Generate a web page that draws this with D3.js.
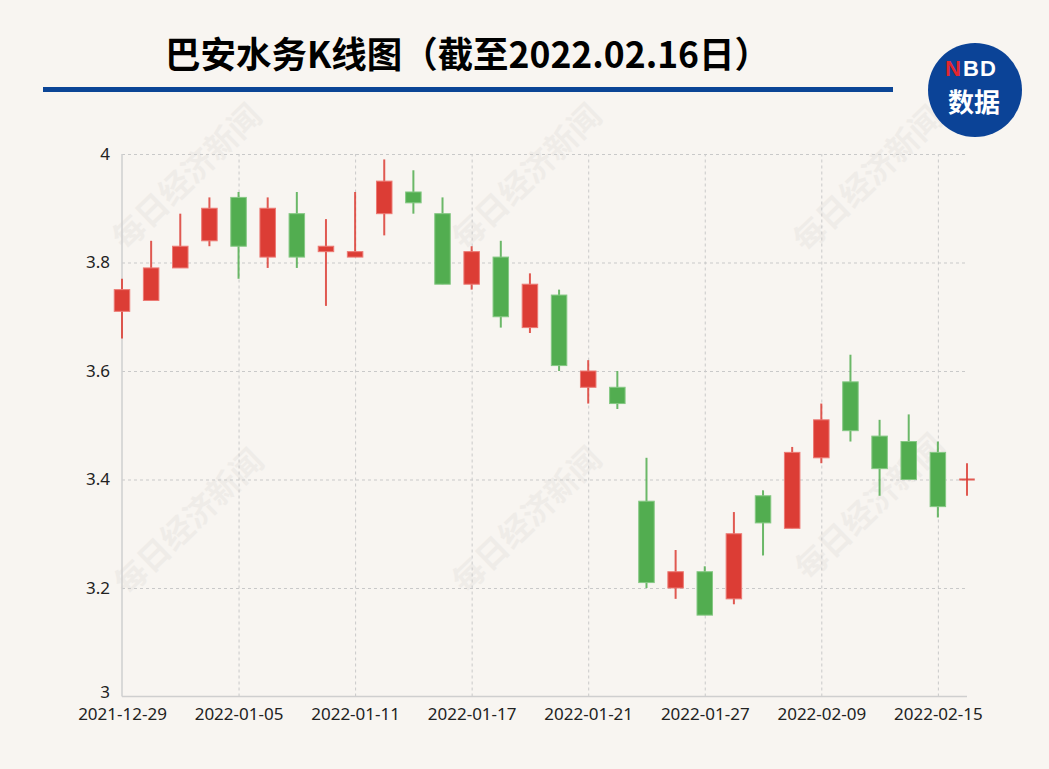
<!DOCTYPE html>
<html>
<head>
<meta charset="utf-8">
<script src="https://cdn.jsdelivr.net/npm/d3@7"></script>
<style>
  html, body { margin: 0; padding: 0; background: #f8f5f1; }
  svg { display: block; }
</style>
</head>
<body>
<svg id="chart" width="1049" height="769"></svg>
<script>
const dates = ["2021-12-29","2021-12-30","2021-12-31","2022-01-04","2022-01-05","2022-01-06","2022-01-07","2022-01-10","2022-01-11","2022-01-12","2022-01-13","2022-01-14","2022-01-17","2022-01-18","2022-01-19","2022-01-20","2022-01-21","2022-01-24","2022-01-25","2022-01-26","2022-01-27","2022-01-28","2022-02-07","2022-02-08","2022-02-09","2022-02-10","2022-02-11","2022-02-14","2022-02-15","2022-02-16"];
const openVals  = [3.71,3.73,3.79,3.84,3.92,3.81,3.89,3.82,3.81,3.89,3.93,3.89,3.76,3.81,3.68,3.74,3.57,3.57,3.36,3.20,3.23,3.18,3.37,3.31,3.44,3.58,3.48,3.47,3.45,3.40];
const closeVals = [3.75,3.79,3.83,3.90,3.83,3.90,3.81,3.83,3.82,3.95,3.91,3.76,3.82,3.70,3.76,3.61,3.60,3.54,3.21,3.23,3.15,3.30,3.32,3.45,3.51,3.49,3.42,3.40,3.35,3.40];
const highVals  = [3.77,3.84,3.89,3.92,3.93,3.92,3.93,3.88,3.93,3.99,3.97,3.92,3.83,3.84,3.78,3.75,3.62,3.60,3.44,3.27,3.24,3.34,3.38,3.46,3.54,3.63,3.51,3.52,3.47,3.43];
const lowVals   = [3.66,3.73,3.79,3.83,3.77,3.79,3.79,3.72,3.81,3.85,3.89,3.76,3.75,3.68,3.67,3.60,3.54,3.53,3.20,3.18,3.15,3.17,3.26,3.31,3.43,3.47,3.37,3.40,3.33,3.37];
const xTickLabels = ["2021-12-29","2022-01-05","2022-01-11","2022-01-17","2022-01-21","2022-01-27","2022-02-09","2022-02-15"];
const yTickValues = [3, 3.2, 3.4, 3.6, 3.8, 4];
const titleText = "巴安水务K线图（截至2022.02.16日）";
const watermarkText = "每日经济新闻";

const svg = d3.select("#chart");
const W = 1049, H = 769;
const pLeft = 122, pRight = 967, pTop = 154, pBottom = 696.5;
const RED = "#dc3d35", GREEN = "#52ad50";

svg.append("rect").attr("width", W).attr("height", H).attr("fill", "#f8f5f1");

const x = d3.scalePoint().domain(dates).range([pLeft, pRight]);
const y = d3.scaleLinear().domain([3, 4]).range([pBottom, pTop]);

// watermarks
const wm = svg.append("g");
[[185,175],[525,175],[866,177],[187,520],[525,518],[868,505]].forEach(([cx, cy]) => {
  wm.append("text")
    .attr("transform", `translate(${cx},${cy}) rotate(-44)`)
    .attr("text-anchor", "middle")
    .attr("dominant-baseline", "central")
    .attr("font-family", "'Noto Sans CJK SC', sans-serif")
    .attr("font-weight", 700)
    .attr("font-size", 32)
    .attr("fill", "#000")
    .attr("opacity", 0.032)
    .text(watermarkText);
});

// horizontal grid
const yGrid = svg.append("g")
  .attr("transform", `translate(${pLeft},0)`)
  .call(d3.axisLeft(y).tickValues(yTickValues.filter(v => v !== 3)).tickSize(-(pRight - pLeft)).tickFormat(""));
yGrid.select(".domain").remove();
yGrid.selectAll("line").attr("stroke", "#c9c9c9").attr("stroke-dasharray", "3,3").attr("stroke-width", 1);

// vertical grid
const xGrid = svg.append("g")
  .attr("transform", `translate(0,${pBottom})`)
  .call(d3.axisBottom(x).tickValues(xTickLabels.slice(1)).tickSize(-(pBottom - pTop)).tickFormat(""));
xGrid.select(".domain").remove();
xGrid.selectAll("line").attr("stroke", "#c9c9c9").attr("stroke-dasharray", "3,3").attr("stroke-width", 1);

// axis lines
svg.append("line").attr("x1", pLeft).attr("x2", pLeft).attr("y1", pTop).attr("y2", pBottom)
  .attr("stroke", "#cfcfcf").attr("stroke-width", 1.5);
svg.append("line").attr("x1", pLeft).attr("x2", pRight).attr("y1", pBottom).attr("y2", pBottom)
  .attr("stroke", "#cfcfcf").attr("stroke-width", 1.5);

// y labels
const yAx = svg.append("g")
  .attr("transform", `translate(${pLeft},0)`)
  .call(d3.axisLeft(y).tickValues(yTickValues).tickSize(0).tickPadding(12).tickFormat(d3.format("")));
yAx.select(".domain").remove();
yAx.selectAll("text").attr("font-family", "'Noto Sans', sans-serif").attr("font-size", 17).attr("fill", "#222");
yAx.selectAll(".tick").filter(d => d === 3).select("text").attr("dy", "0.05em");

// x labels
const xAx = svg.append("g")
  .attr("transform", `translate(0,${pBottom})`)
  .call(d3.axisBottom(x).tickValues(xTickLabels).tickSize(0).tickPadding(11));
xAx.select(".domain").remove();
xAx.selectAll("text").attr("font-family", "'Noto Sans', sans-serif").attr("font-size", 17).attr("fill", "#222");

// candles
const data = dates.map((d, i) => ({ d, o: openVals[i], c: closeVals[i], h: highVals[i], l: lowVals[i] }));
const bw = 15.5;
const g = svg.append("g");
const cand = g.selectAll("g.c").data(data).join("g").attr("class", "c");
cand.append("line")
  .attr("x1", d => x(d.d)).attr("x2", d => x(d.d))
  .attr("y1", d => y(d.h)).attr("y2", d => y(d.l))
  .attr("stroke", d => d.c >= d.o ? RED : GREEN)
  .attr("stroke-opacity", 0.85)
  .attr("stroke-width", 2);
cand.append("rect")
  .attr("x", d => x(d.d) - bw / 2)
  .attr("width", bw)
  .attr("y", d => d.o === d.c ? y(d.o) - 1 : y(Math.max(d.o, d.c)))
  .attr("height", d => d.o === d.c ? 2 : Math.abs(y(d.o) - y(d.c)))
  .attr("fill", d => d.c >= d.o ? RED : GREEN)
  .attr("fill-opacity", d => d.o === d.c ? 0.85 : 1)
  .attr("stroke", d => d.o === d.c ? "none" : (d.c >= d.o ? "#ec7a74" : "#86c884"))
  .attr("stroke-width", 1);

// title
svg.append("text")
  .attr("x", 165).attr("y", 68)
  .attr("font-family", "'Noto Sans CJK SC', sans-serif")
  .attr("font-weight", 700)
  .attr("font-size", 36)
  .attr("textLength", 605)
  .attr("lengthAdjust", "spacingAndGlyphs")
  .attr("fill", "#000")
  .text(titleText);

// blue rule
svg.append("rect").attr("x", 43).attr("y", 87).attr("width", 850).attr("height", 5).attr("fill", "#0b4596");

// logo
svg.append("circle").attr("cx", 975).attr("cy", 90).attr("r", 47).attr("fill", "#0b4397");
svg.append("text").attr("x", 961).attr("y", 76)
  .attr("text-anchor", "end")
  .attr("font-family", "'Liberation Sans', Arial, sans-serif")
  .attr("font-weight", 700).attr("font-size", 22)
  .attr("fill", "#e3262f").text("N");
svg.append("text").attr("x", 963).attr("y", 76)
  .attr("text-anchor", "start")
  .attr("font-family", "'Liberation Sans', Arial, sans-serif")
  .attr("font-weight", 700).attr("font-size", 22).attr("letter-spacing", 1)
  .attr("fill", "#fff").text("BD");
svg.append("text").attr("x", 974).attr("y", 112)
  .attr("text-anchor", "middle")
  .attr("font-family", "'Noto Sans CJK SC', sans-serif")
  .attr("font-weight", 700).attr("font-size", 26).attr("fill", "#fff")
  .text("数据");
</script>
</body>
</html>
